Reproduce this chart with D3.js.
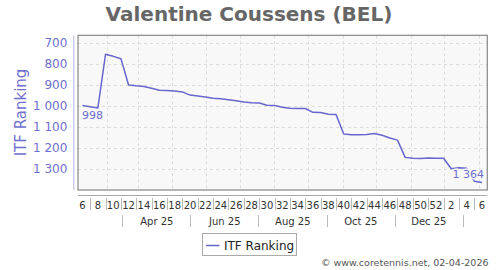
<!DOCTYPE html>
<html><head><meta charset="utf-8">
<script src="https://cdn.jsdelivr.net/npm/d3@7"></script>
<style>
html,body{margin:0;padding:0;background:#fff;}
svg{display:block;font-family:"DejaVu Sans",Verdana,sans-serif;}
</style></head>
<body><svg id="chart" width="500" height="270"></svg>
<script>
// ---- data ----
const title = "Valentine Coussens (BEL)";
const seriesName = "ITF Ranking";
const weekKeys = [
 "25-06","25-07","25-08","25-09","25-10","25-11","25-12","25-13","25-14","25-15",
 "25-16","25-17","25-18","25-19","25-20","25-21","25-22","25-23","25-24","25-25",
 "25-26","25-27","25-28","25-29","25-30","25-31","25-32","25-33","25-34","25-35",
 "25-36","25-37","25-38","25-39","25-40","25-41","25-42","25-43","25-44","25-45",
 "25-46","25-47","25-48","25-49","25-50","25-51","25-52","26-01","26-02","26-03",
 "26-04","26-05","26-06"];
const rankings = [
 998,1004,1010,755,765,776,901,905,908,917,
 926,927,930,934,949,953,958,964,966,971,
 976,982,985,987,997,999,1007,1012,1013,1013,
 1031,1032,1040,1041,1134,1138,1137,1136,1132,1140,
 1153,1163,1245,1249,1250,1248,1249,1249,1299,1294,
 1297,1358,1364];
const weekTickKeys = ["25-06","25-08","25-10","25-12","25-14","25-16","25-18","25-20","25-22","25-24",
 "25-26","25-28","25-30","25-32","25-34","25-36","25-38","25-40","25-42","25-44",
 "25-46","25-48","25-50","25-52","26-02","26-04","26-06"];
const weekTickLabels = ["6","8","10","12","14","16","18","20","22","24","26","28","30","32","34","36",
 "38","40","42","44","46","48","50","52","2","4","6"];
const monthLabels = ["Apr 25","Jun 25","Aug 25","Oct 25","Dec 25"];
const monthLabelDates = ["2025-04-01","2025-06-01","2025-08-01","2025-10-01","2025-12-01"];
const monthSepDates = ["2025-03-01","2025-05-01","2025-07-01","2025-09-01","2025-11-01","2026-01-01"];
const gridDates = ["2025-02-15","2025-03-15","2025-04-15","2025-05-15","2025-06-15","2025-07-15",
 "2025-08-15","2025-09-15","2025-10-15","2025-11-15","2025-12-15","2026-01-15"];
const yTicks = [700,800,900,1000,1100,1200,1300];
const credit = "\u00a9 www.coretennis.net, 02-04-2026";

// ---- layout ----
const L = 78, R = 487.3, T = 35.3, B = 190;
const purple = "#6666cc", purpleText = "#6f6fcf";
const svg = d3.select("#chart");
const loc = d3.formatLocale({decimal:".", thousands:" ", grouping:[3], currency:["",""]});
const fmt = loc.format(",d");

const x = d3.scaleLinear().domain([-0.586, 52.69]).range([L, R]);
const xt = d3.scaleTime().domain([new Date(2025,0,20,8), new Date(2026,0,22,10)]).range([L, R]);
const y = d3.scaleLinear().domain([665, 1400]).range([T, B]);
const parse = d3.timeParse("%Y-%m-%d");
const idx = k => weekKeys.indexOf(k);

// title
svg.append("text").attr("x", 249).attr("y", 21).attr("text-anchor","middle")
  .attr("font-size", 20).attr("font-weight","bold").attr("fill","#666").text(title);

// plot background
svg.append("rect").attr("x",L).attr("y",T).attr("width",R-L).attr("height",B-T).attr("fill","#f8f8f8");

// grid
svg.append("g").selectAll("line").data(yTicks).join("line")
  .attr("x1",L).attr("x2",R).attr("y1",d=>Math.round(y(d))+0.5).attr("y2",d=>Math.round(y(d))+0.5)
  .attr("stroke","#dcdcdc").attr("stroke-dasharray","3,3");
svg.append("g").selectAll("line").data(gridDates).join("line")
  .attr("y1",T).attr("y2",B).attr("x1",d=>Math.round(xt(parse(d)))+0.5).attr("x2",d=>Math.round(xt(parse(d)))+0.5)
  .attr("stroke","#dcdcdc").attr("stroke-dasharray","3,3");

// frame
svg.append("rect").attr("x",L).attr("y",T).attr("width",R-L).attr("height",B-T)
  .attr("fill","none").attr("stroke","#888").attr("stroke-width",1.2);

// y axis
const yAxis = d3.axisLeft(y).tickValues(yTicks).tickFormat(fmt).tickSize(0).tickPadding(6);
const gy = svg.append("g").attr("transform",`translate(73.3,0)`).call(yAxis);
gy.select(".domain").attr("stroke","#b4b4e4").attr("d",`M0.5,${T}V${B}`);
gy.selectAll("text").attr("font-size",12).attr("fill",purpleText).attr("font-family","DejaVu Sans");

svg.append("text").attr("transform",`translate(26,112.5) rotate(-90)`).attr("text-anchor","middle")
  .attr("font-size",15).attr("fill",purpleText).text(seriesName);

// x axis rows
svg.append("line").attr("x1",L).attr("x2",R).attr("y1",195.5).attr("y2",195.5).attr("stroke","#aaa");
const tickX = weekTickKeys.map(k => x(idx(k)));
svg.append("g").selectAll("text").data(weekTickLabels).join("text")
  .attr("x",(d,i)=>tickX[i]).attr("y",208.5).attr("text-anchor","middle")
  .attr("font-size",10).attr("fill","#333").text(d=>d);
const seps = d3.pairs(tickX).map(p => (p[0]+p[1])/2);
svg.append("g").selectAll("line").data(seps).join("line")
  .attr("x1",d=>Math.round(d)+0.5).attr("x2",d=>Math.round(d)+0.5).attr("y1",198).attr("y2",210)
  .attr("stroke","#bbb");
svg.append("g").selectAll("text").data(monthLabels).join("text")
  .attr("x",(d,i)=>xt(parse(monthLabelDates[i]))).attr("y",224.5).attr("text-anchor","middle")
  .attr("font-size",10).attr("fill","#333").text(d=>d);
svg.append("g").selectAll("line").data(monthSepDates).join("line")
  .attr("x1",d=>Math.round(xt(parse(d)))+0.5).attr("x2",d=>Math.round(xt(parse(d)))+0.5)
  .attr("y1",215).attr("y2",227).attr("stroke","#bbb");

// line
const line = d3.line().x((d,i)=>x(i)).y(d=>y(d));
svg.append("path").datum(rankings).attr("d",line).attr("fill","none")
  .attr("stroke",purple).attr("stroke-width",1.5).attr("stroke-linejoin","round");

// point labels
const first = 0, last = rankings.length-1;
svg.append("text").attr("x",x(first)-0.5).attr("y",y(rankings[first])+13.5)
  .attr("font-size",11).attr("fill",purpleText).attr("stroke","#f8f8f8").attr("stroke-width",3)
  .attr("paint-order","stroke").text(fmt(rankings[first]));
svg.append("text").attr("x",x(last)+2).attr("y",y(rankings[last])-4.5).attr("text-anchor","end")
  .attr("font-size",11).attr("fill",purpleText).attr("stroke","#f8f8f8").attr("stroke-width",3)
  .attr("paint-order","stroke").text(fmt(rankings[last]));

// legend
const lg = svg.append("g");
lg.append("rect").attr("x",202.5).attr("y",233.5).attr("width",94).attr("height",22)
  .attr("fill","#fff").attr("stroke","#aaa");
lg.append("line").attr("x1",206).attr("x2",219.5).attr("y1",245.5).attr("y2",245.5)
  .attr("stroke",purple).attr("stroke-width",1.5);
lg.append("text").attr("x",224).attr("y",249.5).attr("font-size",12).attr("fill","#222").text(seriesName);

// credit
svg.append("text").attr("x",488.5).attr("y",266).attr("text-anchor","end")
  .attr("font-size",9.5).attr("fill","#555").text(credit);
</script></body></html>
